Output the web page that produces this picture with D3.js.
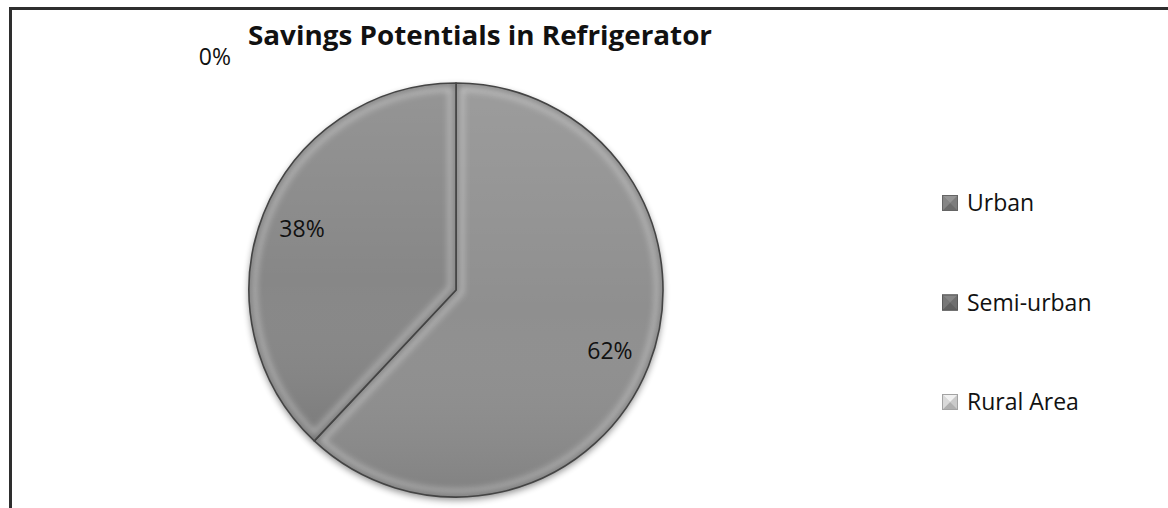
<!DOCTYPE html>
<html>
<head>
<meta charset="utf-8">
<script src="https://cdn.jsdelivr.net/npm/d3@7"></script>
<style>
  html, body { margin: 0; padding: 0; background: #fff; }
  svg { display: block; font-family: "Open Sans", "Noto Sans", sans-serif; }
</style>
</head>
<body>
<svg id="chart" width="1168" height="508"></svg>
<script>
// Savings potentials in refrigerator, share by area type
const categories = ["Urban", "Semi-urban", "Rural Area"];
const shares = [62, 38, 0];
const labels = ["62%", "38%", "0%"];
const title = "Savings Potentials in Refrigerator";

const sliceFill = ["#8f8f8f", "#878787", "#bdbdbd"];
const legendFill = ["#7d7d7d", "#6f6f6f", "#cacaca"];

const W = 1168, H = 508;
const cx = 456, cy = 290, R = 207;

const svg = d3.select("#chart");
const defs = svg.append("defs");

// vertical shading of the pie body
const shade = defs.append("linearGradient")
  .attr("id", "shade").attr("x1", 0).attr("y1", 0).attr("x2", 0).attr("y2", 1);
shade.append("stop").attr("offset", "0%").attr("stop-color", "#fff").attr("stop-opacity", 0.12);
shade.append("stop").attr("offset", "55%").attr("stop-color", "#fff").attr("stop-opacity", 0);
shade.append("stop").attr("offset", "100%").attr("stop-color", "#000").attr("stop-opacity", 0.1);

const soft = defs.append("filter").attr("id", "soft")
  .attr("x", "-10%").attr("y", "-10%").attr("width", "120%").attr("height", "120%");
soft.append("feGaussianBlur").attr("stdDeviation", 3);

const shadow = defs.append("filter").attr("id", "shadow")
  .attr("x", "-10%").attr("y", "-10%").attr("width", "120%").attr("height", "125%");
shadow.append("feGaussianBlur").attr("in", "SourceAlpha").attr("stdDeviation", 3.5);
shadow.append("feOffset").attr("dy", 3).attr("result", "b");
shadow.append("feComponentTransfer").append("feFuncA").attr("type", "linear").attr("slope", 0.45);

// outer frame (only the top and left edges fall inside the view)
svg.append("rect")
  .attr("x", 10.5).attr("y", 8.5).attr("width", W + 20).attr("height", H + 20)
  .attr("fill", "none").attr("stroke", "#2e2e2e").attr("stroke-width", 3);

// title
svg.append("text")
  .attr("x", 248).attr("y", 45)
  .attr("font-size", 27).attr("font-weight", 700).attr("fill", "#111")
  .attr("textLength", 464).attr("lengthAdjust", "spacingAndGlyphs")
  .text(title);

// pie
const pie = d3.pie().sort(null).value(d => d)(shares);
const arc = d3.arc().innerRadius(0).outerRadius(R);
const labelArc = d3.arc().innerRadius(R * 0.8).outerRadius(R * 0.8);

const g = svg.append("g").attr("transform", `translate(${cx},${cy})`);

// soft shadow under the disc
g.append("circle").attr("r", R).attr("fill", "#000").attr("filter", "url(#shadow)");

const slices = g.selectAll("g.slice").data(pie).enter().append("g").attr("class", "slice");

slices.each(function(d, i) {
  const s = d3.select(this);
  if (d.endAngle - d.startAngle <= 0) return;
  const clipId = "clip" + i;
  defs.append("clipPath").attr("id", clipId)
    .append("path").attr("d", arc(d)).attr("transform", `translate(${cx},${cy})`);
  s.append("path").attr("d", arc(d)).attr("fill", sliceFill[i]);
  const inner = s.append("g").attr("clip-path", `url(#${clipId})`)
    .attr("transform", `translate(${-cx},${-cy})`)
    .append("g").attr("transform", `translate(${cx},${cy})`);
  inner.append("path").attr("d", arc(d)).attr("fill", "url(#shade)");
  // bevel highlight along the slice edges
  inner.append("path").attr("d", arc(d)).attr("fill", "none")
    .attr("stroke", "#fff").attr("stroke-opacity", 0.35).attr("stroke-width", 16)
    .attr("filter", "url(#soft)");
  inner.append("path").attr("d", arc(d)).attr("fill", "none")
    .attr("stroke", "#000").attr("stroke-opacity", 0.4).attr("stroke-width", 5)
    .attr("filter", "url(#soft)");
  s.append("path").attr("d", arc(d)).attr("fill", "none")
    .attr("stroke", "#444").attr("stroke-width", 1.6).attr("stroke-linejoin", "round");
});

// value labels
slices.append("text")
  .attr("transform", (d, i) => {
    if (d.endAngle - d.startAngle > 0) {
      const [x, y] = labelArc.centroid(d);
      return `translate(${x},${y})`;
    }
    // zero share: label pushed out past the top-left of the disc
    return `translate(${-R * 1.165},${-R * 1.125})`;
  })
  .attr("text-anchor", "middle").attr("dy", "0.35em")
  .attr("font-size", 23).attr("fill", "#111")
  .text((d, i) => labels[i]);

// legend
const legend = svg.append("g").attr("transform", "translate(942,203)");
const li = legend.selectAll("g").data(categories).enter().append("g")
  .attr("transform", (d, i) => `translate(0,${i * 99.5})`);

li.each(function(d, i) {
  const s = d3.select(this);
  const c = d3.color(legendFill[i]);
  const sz = 16, h = sz / 2;
  // small bevelled square
  s.append("rect").attr("x", 0).attr("y", -h).attr("width", sz).attr("height", sz).attr("fill", c);
  s.append("path").attr("d", `M0,${-h}L${sz},${-h}L${h},0Z`).attr("fill", c.brighter(0.5));
  s.append("path").attr("d", `M0,${h}L${sz},${h}L${h},0Z`).attr("fill", c.darker(0.4));
  s.append("path").attr("d", `M0,${-h}L0,${h}L${h},0Z`).attr("fill", c.brighter(0.2));
  s.append("rect").attr("x", 0.5).attr("y", -h + 0.5).attr("width", sz - 1).attr("height", sz - 1)
    .attr("fill", "none").attr("stroke", c.darker(0.6)).attr("stroke-width", 1);
});

li.append("text")
  .attr("x", 25).attr("y", 0).attr("dy", "0.35em")
  .attr("font-size", 23).attr("fill", "#111")
  .text(d => d);
</script>
</body>
</html>
